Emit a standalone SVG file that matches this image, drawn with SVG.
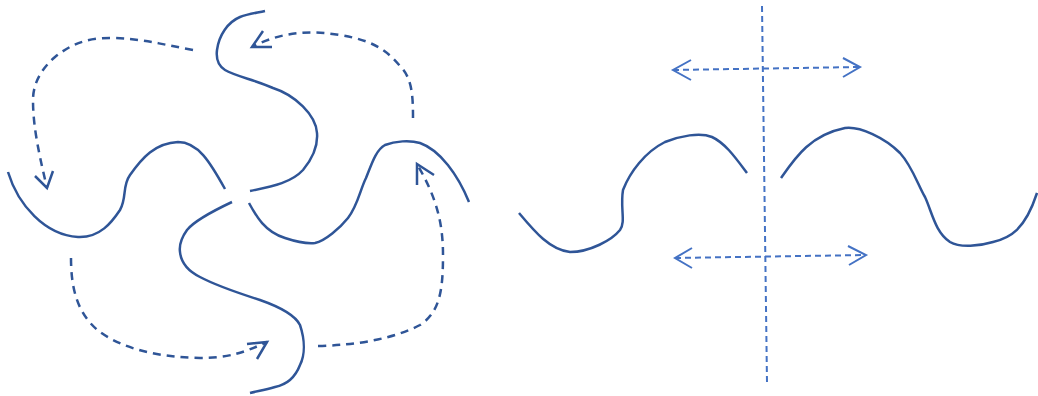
<svg xmlns="http://www.w3.org/2000/svg" width="1038" height="396" viewBox="0 0 1038 396">
<style>
.s{fill:none;stroke:#2F5597;stroke-width:2.5;stroke-linecap:butt;stroke-linejoin:round}
.d{fill:none;stroke:#2F5597;stroke-width:2.5;stroke-dasharray:8 6}
.h{fill:none;stroke:#2F5597;stroke-width:2.5;stroke-linejoin:miter}
.ld{fill:none;stroke:#4472C4;stroke-width:2;stroke-dasharray:6 4}
.lh{fill:none;stroke:#4472C4;stroke-width:2}
</style>
<rect width="1038" height="396" fill="#fff"/>
<g id="strand-left"><path class="s" d="M8,172 C18,205 45,235 78,237 C100,238 112,222 120,210 C127,198 122,186 130,175 C142,158 155,143 178,142 C198,142 210,162 225,189"/></g>
<g id="strand-top"><path class="s" d="M250,191 C275,186 292,182 303,170 C313,158 318,145 317,133 C316,115 295,95 273,88 C255,80 235,76 225,70 C217,65 216,58 217,50 C219,35 228,22 240,17 C248,14 256,13 265,11"/></g>
<g id="strand-right"><path class="s" d="M249,203 C256,216 265,232 285,238 C297,242 305,244 315,243 C325,241 340,228 348,218 C358,205 360,190 366,178 C372,163 376,150 385,145 C395,141 410,140 420,143 C440,150 458,175 469,202"/></g>
<g id="strand-bottom"><path class="s" d="M232,202 C215,210 195,220 187,230 C182,237 179,245 180,252 C181,262 186,270 200,277 C215,285 235,292 260,300 C280,307 295,315 300,325 C305,340 305,355 300,365 C295,378 285,385 275,387 C265,390 258,391 250,393"/></g>
<g id="curve-left"><path class="s" d="M519,213 C535,232 550,250 570,252 C590,252 612,240 620,230 C626,222 620,208 623,190 C630,172 645,152 665,142 C680,136 700,132 712,137 C725,143 735,157 747,173"/></g>
<g id="curve-right"><path class="s" d="M781,178 C795,158 810,135 845,128 C860,126 885,138 900,153 C912,166 918,185 925,197 C932,212 935,232 950,242 C960,248 980,246 993,242 C1010,238 1025,230 1037,193"/></g>
<g id="connectors">
<path class="d" d="M193,50 C165,45 140,38 110,38 C85,38 70,45 55,57 C40,70 33,85 33,100 C33,125 38,150 47,188"/>
<path class="h" d="M35,176 L47,188 L53,171"/>
<path class="d" d="M413,118 C413,95 412,78 400,66 C385,48 370,40 340,35 C310,30 280,32 252,47"/>
<path class="h" d="M263,31 L252,47 L272,47"/>
<path class="d" d="M71,258 C71,290 78,315 100,332 C125,350 160,357 200,358 C230,358 245,352 267,342"/>
<path class="h" d="M247,344 L267,342 L257,359"/>
<path class="d" d="M318,346 C360,345 395,338 420,325 C440,312 443,290 443,255 C443,220 435,195 417,164"/>
<path class="h" d="M434,175 L417,164 L417,185"/>
<path class="ld" d="M762,6 L767,383"/>
<path class="ld" d="M673,70 L860,67"/>
<path class="lh" d="M691,60 L673,70 L691,80 M843,58 L860,67 L843,77"/>
<path class="ld" d="M675,258 L866,255"/>
<path class="lh" d="M692,248 L675,258 L692,268 M848,246 L866,255 L849,265"/>
</g>
</svg>
